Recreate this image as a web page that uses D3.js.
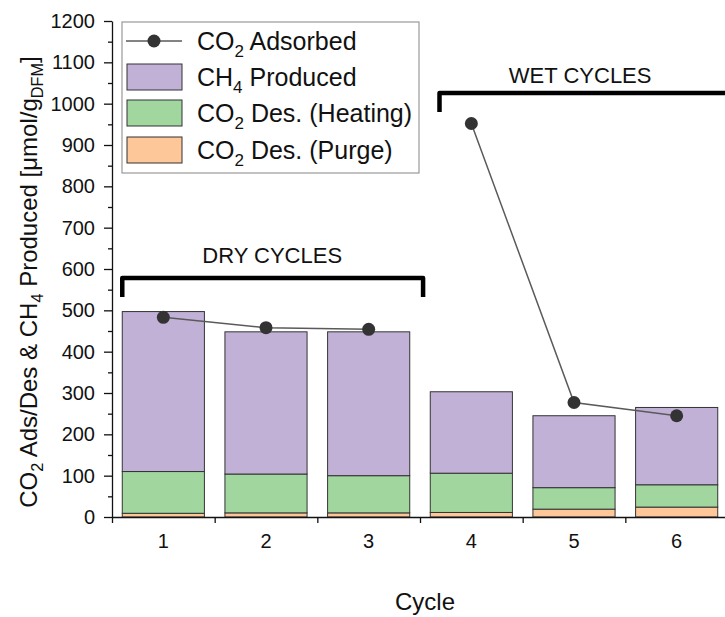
<!DOCTYPE html>
<html>
<head>
<meta charset="utf-8">
<script src="https://cdn.jsdelivr.net/npm/d3@7"></script>
<style>
  body { margin: 0; background: #fff; }
  svg { font-family: "Liberation Sans", Arial, sans-serif; display: block; }
</style>
</head>
<body>
<div id="chart-area"></div>
<script>
// Data (umol/g DFM)
var cycles = [1, 2, 3, 4, 5, 6];
var purge = [9, 10, 10, 11, 19, 24];
var heating = [101, 94, 90, 95, 52, 54];
var ch4 = [387, 344, 348, 197, 174, 187];
var co2Adsorbed = [483, 458, 454, 952, 277, 245];
// line is split between the dry (1-3) and wet (4-6) runs
var runGroup = ["dry", "dry", "dry", "wet", "wet", "wet"];
var yTicks = [0, 100, 200, 300, 400, 500, 600, 700, 800, 900, 1000, 1100, 1200];

var width = 725, height = 617;
var x0 = 112, x1 = 728, yBottom = 517, yTop = 21;

var colors = { purge: "#fdc799", heating: "#a1d79f", ch4: "#c2b1d7" };

var svg = d3.select("#chart-area")
    .append("svg")
        .attr("width", width)
        .attr("height", height);

// Scales
var x = d3.scaleBand()
    .domain(cycles)
    .range([x0, x1])
    .paddingInner(0.2)
    .paddingOuter(0.1);

// continuous cycle scale, used for tick marks and bracket ends
var xl = d3.scaleLinear()
    .domain([0.5, 6.5])
    .range([x0, x1]);

var y = d3.scaleLinear()
    .domain([0, 1200])
    .range([yBottom, yTop]);

// text with subscripts: parts = [[text, isSub], ...]
function rich(sel, parts, size) {
    parts.forEach(function(p, i) {
        var prevSub = i > 0 && parts[i - 1][1];
        var t = sel.append("tspan").text(p[0]);
        if (p[1]) {
            t.attr("font-size", size * 0.68).attr("dy", size * 0.27);
        } else {
            t.attr("font-size", size);
            if (prevSub) t.attr("dy", -size * 0.27);
        }
    });
    return sel;
}

// Stacked bars
var table = cycles.map(function(c, i) {
    return { cycle: c, purge: purge[i], heating: heating[i], ch4: ch4[i] };
});
var stack = d3.stack().keys(["purge", "heating", "ch4"]);
var layers = stack(table);

svg.append("g").selectAll("g")
    .data(layers)
    .enter().append("g")
        .attr("fill", function(d) { return colors[d.key]; })
    .selectAll("rect")
    .data(function(d) { return d; })
    .enter().append("rect")
        .attr("x", function(d) { return x(d.data.cycle); })
        .attr("width", x.bandwidth())
        .attr("y", function(d) { return y(d[1]); })
        .attr("height", function(d) { return y(d[0]) - y(d[1]); })
        .attr("stroke", "#333")
        .attr("stroke-width", 1);

// Y axis
var yMinor = d3.range(50, 1200, 100);
svg.append("g")
    .attr("transform", "translate(" + x0 + ",0)")
    .call(d3.axisLeft(y).tickValues(yMinor).tickSize(4).tickFormat(""))
    .call(function(g) { g.select(".domain").remove(); })
    .selectAll("line").attr("stroke", "#111").attr("stroke-width", 1.3);

var yAxis = svg.append("g")
    .attr("transform", "translate(" + x0 + ",0)")
    .call(d3.axisLeft(y).tickValues(yTicks).tickFormat(d3.format("d"))
        .tickSize(8).tickPadding(9).tickSizeOuter(0));
yAxis.selectAll("text").attr("font-size", 20).attr("fill", "#111").attr("font-family", null);
yAxis.selectAll("line, path").attr("stroke", "#111").attr("stroke-width", 1.3);

// X axis: ticks at band boundaries, labels at centers
var xAxis = svg.append("g")
    .attr("transform", "translate(0," + yBottom + ")")
    .call(d3.axisBottom(xl).tickValues(d3.range(0.5, 7, 1)).tickSize(6).tickFormat("").tickSizeOuter(0));
xAxis.selectAll("line, path").attr("stroke", "#111").attr("stroke-width", 1.3);

var xLabels = svg.append("g")
    .attr("transform", "translate(0," + yBottom + ")")
    .call(d3.axisBottom(x).tickSize(0).tickPadding(17));
xLabels.select(".domain").remove();
xLabels.selectAll("text").attr("font-size", 20).attr("fill", "#111").attr("font-family", null);

// CO2 adsorbed line, drawn as two runs
var line = d3.line()
    .x(function(d) { return x(d.cycle) + x.bandwidth() / 2; })
    .y(function(d) { return y(d.value); });

var points = cycles.map(function(c, i) {
    return { cycle: c, value: co2Adsorbed[i], run: runGroup[i] };
});
var runs = d3.groups(points, function(d) { return d.run; });

svg.selectAll(".run")
    .data(runs)
    .enter().append("path")
        .attr("class", "run")
        .attr("fill", "none")
        .attr("stroke", "#5a5a5a")
        .attr("stroke-width", 1.5)
        .attr("d", function(d) { return line(d[1]); });

svg.selectAll(".dot")
    .data(points)
    .enter().append("circle")
        .attr("class", "dot")
        .attr("cx", function(d) { return x(d.cycle) + x.bandwidth() / 2; })
        .attr("cy", function(d) { return y(d.value); })
        .attr("r", 6.5)
        .attr("fill", "#333");

// Brackets for dry / wet cycles
var brackets = [
    { label: "DRY CYCLES", from: 0.6, to: 3.53, low: 532, high: 578, textX: 2.06, textY: 614 },
    { label: "WET CYCLES", from: 3.69, to: 6.8, low: 980, high: 1026, textX: 5.06, textY: 1050 }
];
brackets.forEach(function(b) {
    svg.append("path")
        .attr("d", "M" + xl(b.from) + "," + y(b.low) +
                   "L" + xl(b.from) + "," + y(b.high) +
                   "L" + xl(b.to) + "," + y(b.high) +
                   "L" + xl(b.to) + "," + y(b.low))
        .attr("fill", "none")
        .attr("stroke", "#000")
        .attr("stroke-width", 4.5)
        .attr("stroke-linejoin", "round");
    svg.append("text")
        .attr("x", xl(b.textX))
        .attr("y", y(b.textY))
        .attr("text-anchor", "middle")
        .attr("font-size", 22)
        .attr("fill", "#111")
        .text(b.label);
});

// Legend
var legend = svg.append("g");
legend.append("rect")
    .attr("x", 122).attr("y", 22)
    .attr("width", 297).attr("height", 151)
    .attr("fill", "#fff")
    .attr("stroke", "#999")
    .attr("stroke-width", 1.2);

legend.append("line")
    .attr("x1", 126).attr("x2", 182)
    .attr("y1", 41).attr("y2", 41)
    .attr("stroke", "#5a5a5a").attr("stroke-width", 1.5);
legend.append("circle")
    .attr("cx", 154).attr("cy", 41).attr("r", 6.5).attr("fill", "#333");

var legendRows = [
    { key: "ch4", y: 64 },
    { key: "heating", y: 100 },
    { key: "purge", y: 137 }
];
legendRows.forEach(function(r) {
    legend.append("rect")
        .attr("x", 127).attr("y", r.y)
        .attr("width", 55).attr("height", 26)
        .attr("fill", colors[r.key])
        .attr("stroke", "#333").attr("stroke-width", 1);
});

var legendText = [
    [["CO", false], ["2", true], [" Adsorbed", false]],
    [["CH", false], ["4", true], [" Produced", false]],
    [["CO", false], ["2", true], [" Des. (Heating)", false]],
    [["CO", false], ["2", true], [" Des. (Purge)", false]]
];
var legendY = [50, 86, 122, 159];
legendText.forEach(function(parts, i) {
    rich(legend.append("text")
        .attr("x", 197).attr("y", legendY[i])
        .attr("fill", "#111"), parts, 25);
});

// Axis titles
rich(svg.append("text")
    .attr("transform", "translate(37,282) rotate(-90)")
    .attr("text-anchor", "middle")
    .attr("fill", "#111"),
    [["CO", false], ["2", true], [" Ads/Des & CH", false], ["4", true],
     [" Produced [\u03bcmol/g", false], ["DFM", true], ["]", false]], 24);

svg.append("text")
    .attr("x", 425)
    .attr("y", 610)
    .attr("text-anchor", "middle")
    .attr("font-size", 24)
    .attr("fill", "#111")
    .text("Cycle");
</script>
</body>
</html>
